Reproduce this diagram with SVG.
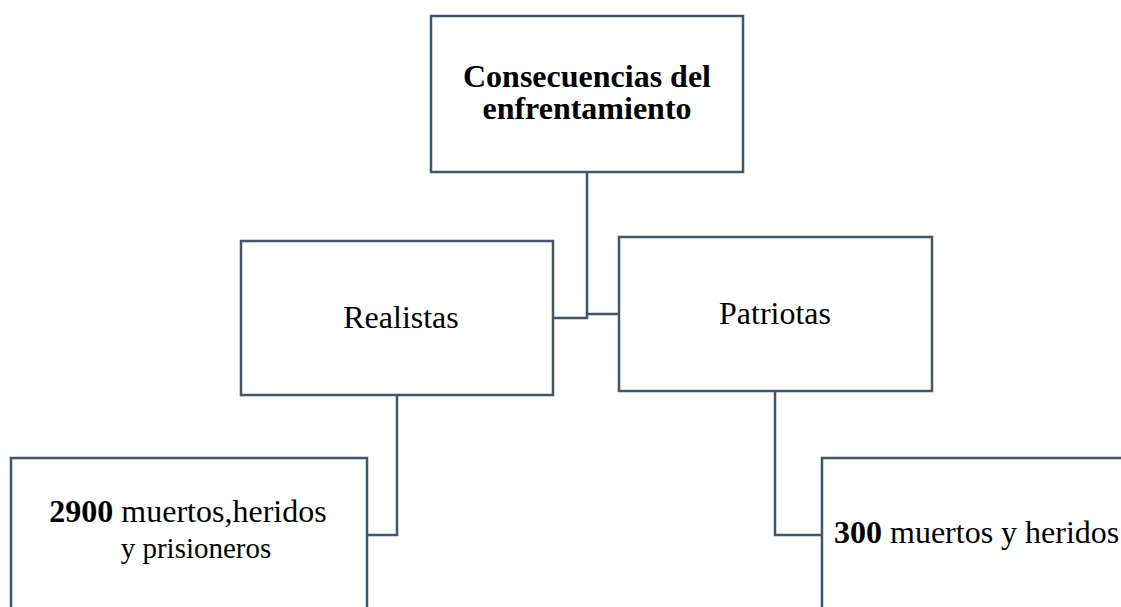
<svg xmlns="http://www.w3.org/2000/svg" width="1121" height="607" viewBox="0 0 1121 607">
<style>
.box{fill:#ffffff;stroke:#44546a;stroke-width:2.5}
.con{fill:none;stroke:#44546a;stroke-width:2.5}
text{font-family:"Liberation Serif","Times New Roman",serif;font-size:32px;fill:#000000}
.b{font-weight:bold}
.s{font-size:29px}
</style>
<rect width="1121" height="607" fill="#ffffff"/>
<g id="connectors">
<polyline class="con" points="587,172 587,318 553,318"/>
<polyline class="con" points="587,314 619,314"/>
<polyline class="con" points="397,395 397,535 367,535"/>
<polyline class="con" points="775,391 775,535 822,535"/>
</g>
<g id="node-consecuencias">
<rect class="box" x="431" y="16" width="312" height="156"/>
<text class="b" x="587" y="87" text-anchor="middle">Consecuencias del</text>
<text class="b" x="587" y="119" text-anchor="middle">enfrentamiento</text>
</g>
<g id="node-realistas">
<rect class="box" x="241" y="241" width="312" height="154"/>
<text x="401" y="328" text-anchor="middle">Realistas</text>
</g>
<g id="node-patriotas">
<rect class="box" x="619" y="237" width="313" height="154"/>
<text x="775" y="324" text-anchor="middle">Patriotas</text>
</g>
<g id="node-realistas-bajas">
<rect class="box" x="11" y="458" width="356" height="170"/>
<text x="188" y="522" text-anchor="middle"><tspan class="b">2900</tspan> muertos,heridos</text>
<text class="s" x="196" y="558" text-anchor="middle">y prisioneros</text>
</g>
<g id="node-patriotas-bajas">
<rect class="box" x="822" y="458" width="320" height="170"/>
<text x="834" y="543"><tspan class="b">300</tspan> muertos y heridos</text>
</g>
</svg>
